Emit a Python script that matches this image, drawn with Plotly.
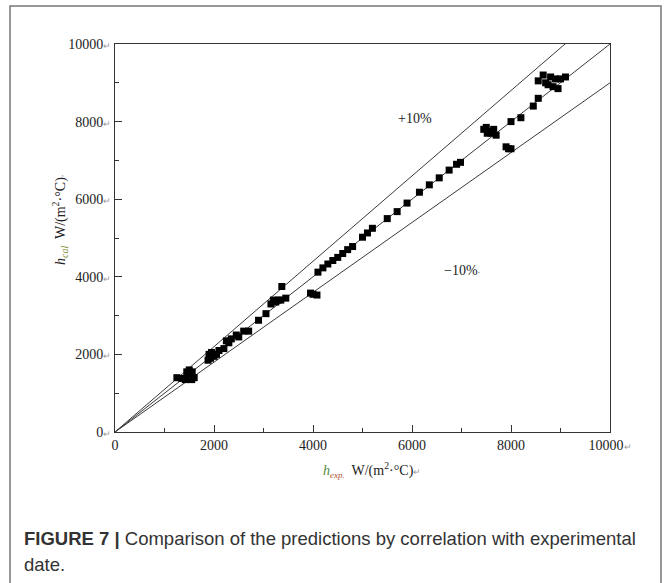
import plotly.graph_objects as go

# ---- data ----
h_exp = [1250, 1350, 1420, 1480, 1500, 1550, 1600, 1450, 1560,
         1880, 1900, 1950, 1930, 2000, 2050, 2100,
         2200, 2250, 2300, 2350, 2450, 2500, 2600, 2700,
         2900, 3050, 3150, 3200, 3250, 3300, 3350, 3370, 3450,
         3950, 4000, 4080,
         4100, 4200, 4300, 4400, 4500, 4600, 4700, 4800, 5000, 5100, 5200,
         5500, 5700, 5900, 6150, 6350, 6550, 6750, 6900, 6980,
         7450, 7500, 7550, 7600, 7650, 7700, 7520,
         7900, 7950, 8000,
         8000, 8200, 8450, 8550,
         8550, 8650, 8700, 8800, 8850, 8900, 8950, 9000, 9100, 8750]
h_cal = [1400, 1380, 1350, 1400, 1600, 1350, 1400, 1550, 1550,
         1850, 2000, 2050, 1900, 1950, 2000, 2100,
         2150, 2350, 2300, 2400, 2500, 2450, 2600, 2600,
         2880, 3050, 3300, 3400, 3350, 3400, 3400, 3750, 3450,
         3580, 3550, 3530,
         4120, 4230, 4330, 4420, 4500, 4600, 4700, 4780, 5020, 5130, 5250,
         5500, 5680, 5900, 6180, 6370, 6550, 6750, 6900, 6950,
         7800, 7850, 7750, 7700, 7800, 7650, 7700,
         7350, 7300, 7300,
         8000, 8100, 8400, 8600,
         9050, 9200, 9000, 9150, 8900, 9100, 8850, 9100, 9150, 8950]

line_x = [0, 10000]
factors = [1.1, 1.0, 0.9]
tick_vals = [0, 2000, 4000, 6000, 8000, 10000]
x_tick_text = ["0", "2000", "4000", "6000", "8000", "10000"]
y_tick_text = ["0", "2000", "4000", "6000", "8000", "10000"]
band_labels = ["+10%", "\u221210%"]

ARROW = '<span style="font-size:9px;color:#9a9a9a">\u21b5</span>'

W, H = 667, 583
L, R, T, B = 115, 610, 44, 432  # plot area in pixels
pw, ph = R - L, B - T


def px(x):
    return (x - L) / pw


def py(y):
    return (B - y) / ph


fig = go.Figure()
for f in factors:
    fig.add_trace(go.Scatter(x=line_x, y=[f * v for v in line_x], mode="lines",
                             line=dict(color="#3a3a3a", width=1), showlegend=False,
                             hoverinfo="skip"))
fig.add_trace(go.Scatter(x=h_exp, y=h_cal, mode="markers",
                         marker=dict(symbol="square", size=7, color="black"),
                         showlegend=False))

serif = "Liberation Serif, Times New Roman, serif"
axis_common = dict(range=[0, 10000], tickvals=tick_vals, showgrid=False, zeroline=False,
                   showline=True, linecolor="#333", linewidth=1, mirror=True,
                   ticks="inside", ticklen=7, tickcolor="#333", tickwidth=1,
                   minor=dict(dtick=1000, ticks="inside", ticklen=4, tickcolor="#333"),
                   tickfont=dict(family=serif, size=14, color="#222"))

fig.update_xaxes(**axis_common,
                 ticktext=[t if i < len(x_tick_text) - 1 else t + ARROW
                           for i, t in enumerate(x_tick_text)])
fig.update_yaxes(**axis_common, ticktext=[t + ARROW for t in y_tick_text], ticklabelstandoff=0)

annotations = [
    dict(x=px(415), y=py(118), text=band_labels[0]),
    dict(x=px(462), y=py(270), text=band_labels[1] + '<span style="font-size:8px">\u00b7</span>'),
    dict(x=px(372), y=py(470),
         text='<i><span style="color:#4f8a3a">h</span></i><sub><span style="color:#b04a2a;font-size:9px"><i>exp.</i></span></sub>'
              '  W/(m<sup>2</sup>\u00b7\u00b0C)' + ARROW),
    dict(x=px(60), y=py(220), textangle=-90,
         text='<i>h</i><sub><span style="color:#7a8a2a;font-size:10px"><i>cal</i></span></sub>'
              '  W/(m<sup>2</sup>\u00b7\u00b0C)<span style="font-size:8px">\u00b7</span>'),
]
for a in annotations:
    a.update(xref="paper", yref="paper", showarrow=False, xanchor="center", yanchor="middle",
             font=dict(family=serif, size=14, color="#222"))
    fig.add_annotation(**a)

cap_font = dict(family="Liberation Sans, Arial, sans-serif", size=18.5, color="#333")
fig.add_annotation(x=px(22), y=py(538), xref="paper", yref="paper", showarrow=False,
                   xanchor="left", yanchor="middle", font=cap_font,
                   text="<b>FIGURE 7 |</b> Comparison of the predictions by correlation with experimental")
fig.add_annotation(x=px(22), y=py(564), xref="paper", yref="paper", showarrow=False,
                   xanchor="left", yanchor="middle", font=cap_font, text="date.")

fig.add_shape(type="rect", xref="paper", yref="paper",
              x0=px(10), x1=px(661), y0=py(620), y1=py(6),
              line=dict(color="#777", width=1.5), fillcolor="rgba(0,0,0,0)")

fig.update_layout(width=W, height=H, margin=dict(l=L, r=W - R, t=T, b=H - B),
                  plot_bgcolor="white", paper_bgcolor="white")

fig.write_html("out.html")
